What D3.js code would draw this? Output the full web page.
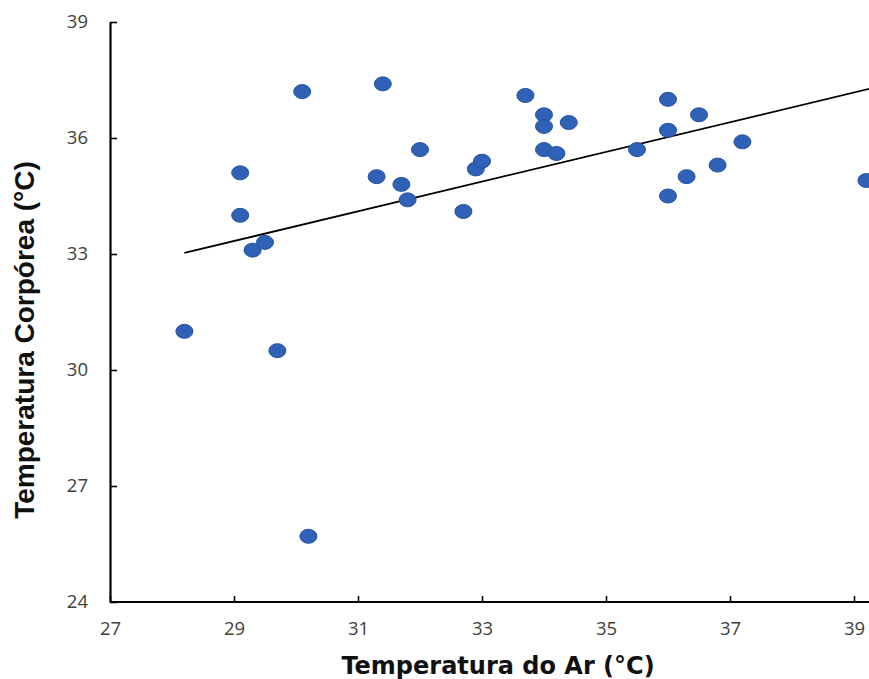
<!DOCTYPE html>
<html>
<head>
<meta charset="utf-8">
<script src="https://cdn.jsdelivr.net/npm/d3@7/dist/d3.min.js"></script>
<style>
  html, body { margin: 0; padding: 0; background: #ffffff; }
  svg { display: block; }
</style>
</head>
<body>
<script>
// Air temperature (°C) vs body temperature (°C), one point per individual
const airTemp = [28.2, 29.1, 29.1, 29.3, 29.5, 29.7, 30.1, 30.2, 31.3, 31.4,
                 31.7, 31.8, 32.0, 32.7, 32.9, 33.0, 33.7, 34.0, 34.0, 34.0,
                 34.2, 34.4, 35.5, 36.0, 36.0, 36.0, 36.3, 36.5, 36.8, 37.2, 39.2];
const bodyTemp = [31.0, 35.1, 34.0, 33.1, 33.3, 30.5, 37.2, 25.7, 35.0, 37.4,
                  34.8, 34.4, 35.7, 34.1, 35.2, 35.4, 37.1, 36.6, 36.3, 35.7,
                  35.6, 36.4, 35.7, 37.0, 36.2, 34.5, 35.0, 36.6, 35.3, 35.9, 34.9];

// Linear trend line: body = intercept + slope * air, drawn over this air range
const trendSlope = 0.384;
const trendIntercept = 22.2;
const trendRange = [28.2, 39.25];

const xTicks = [27, 29, 31, 33, 35, 37, 39];
const yTicks = [24, 27, 30, 33, 36, 39];

const W = 869, H = 679;
const svg = d3.select("body").append("svg").attr("width", W).attr("height", H);

const x = d3.scaleLinear().domain([27, 39]).range([110, 854]);
const y = d3.scaleLinear().domain([24, 39]).range([602, 22]);

const tickFont = "'Open Sans', Lato, sans-serif";

// Axes with short inward ticks
const xAxis = svg.append("g").attr("transform", `translate(0,${y(24)})`)
  .call(d3.axisBottom(x).tickValues(xTicks).tickSizeInner(-6).tickSizeOuter(0).tickPadding(20));
xAxis.select(".domain").attr("d", `M${x(27)},0H${W}`);
const yAxis = svg.append("g").attr("transform", `translate(${x(27)},0)`)
  .call(d3.axisLeft(y).tickValues(yTicks).tickSizeInner(-7).tickSizeOuter(0).tickPadding(22));

[xAxis, yAxis].forEach(g => {
  g.select(".domain").attr("stroke", "#000").attr("stroke-width", 2.2);
  g.selectAll(".tick line").attr("stroke", "#000").attr("stroke-width", 1.6);
  g.selectAll(".tick text").attr("fill", "#404040")
    .style("font-family", tickFont).style("font-size", "18.5px");
});

// Trend line
svg.append("line")
  .attr("x1", x(trendRange[0])).attr("y1", y(trendIntercept + trendSlope * trendRange[0]))
  .attr("x2", x(trendRange[1])).attr("y2", y(trendIntercept + trendSlope * trendRange[1]))
  .attr("stroke", "#000").attr("stroke-width", 1.8);

// Points
const pts = airTemp.map((a, i) => ({ a, b: bodyTemp[i] }));
svg.append("g").selectAll("ellipse").data(pts).join("ellipse")
  .attr("cx", d => x(d.a)).attr("cy", d => y(d.b))
  .attr("rx", 8.5).attr("ry", 7)
  .attr("fill", "#2f62b6").attr("stroke", "#24519e").attr("stroke-width", 1);

// Axis titles
svg.append("text").attr("x", 498).attr("y", 674).attr("text-anchor", "middle")
  .style("font-family", "'DejaVu Sans', Verdana, sans-serif").style("font-weight", "bold")
  .style("font-size", "24px").attr("fill", "#111").text("Temperatura do Ar (°C)");
svg.append("text").attr("transform", "translate(34,340) rotate(-90)").attr("text-anchor", "middle")
  .style("font-family", "'Liberation Sans', Arial, sans-serif").style("font-weight", "bold")
  .style("font-size", "28px").attr("fill", "#111").text("Temperatura Corpórea (°C)");
</script>
</body>
</html>
